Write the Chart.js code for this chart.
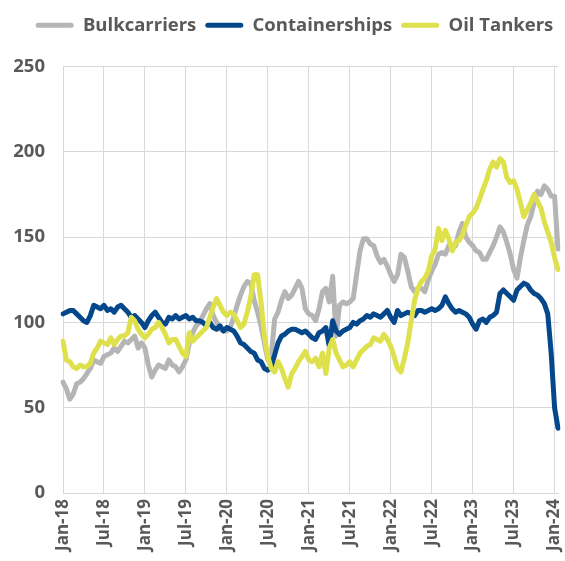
<!DOCTYPE html>
<html lang="en">
<head>
<meta charset="UTF-8" />
<title>Fleet index</title>
<script src="https://cdn.jsdelivr.net/npm/chart.js@4"></script>
<style>
  html, body { margin: 0; padding: 0; background: #fff; }
  #wrap { width: 565px; height: 561px; }
</style>
</head>
<body>
<div id="wrap"><canvas id="fleetChart"></canvas></div>
<script>
// half-monthly observations, Jan 2018 to mid Jan 2024
const startYear = 2018;
const tickLabels = ['Jan-18', 'Jul-18', 'Jan-19', 'Jul-19', 'Jan-20', 'Jul-20', 'Jan-21',
                    'Jul-21', 'Jan-22', 'Jul-22', 'Jan-23', 'Jul-23', 'Jan-24'];

const bulkcarriers = [
  65, 61, 55, 58, 64, 65, 67, 70, 73, 78, 77, 76, 80, 81, 82, 85, 83, 86, 89, 88,
  90, 92, 85, 88, 85, 75, 68, 72, 75, 74, 73, 78, 75, 74, 71, 74, 78, 88, 94, 98,
  100, 104, 108, 111, 104, 100, 96, 95, 95, 97, 103, 110, 116, 121, 124, 123, 113, 106, 98, 88,
  78, 80, 102, 106, 113, 118, 114, 116, 120, 124, 120, 108, 105, 104, 101, 108, 118, 120, 112, 127,
  92, 110, 112, 111, 112, 114, 128, 142, 149, 149, 146, 145, 139, 135, 137, 133, 128, 124, 128, 140,
  138, 130, 121, 118, 120, 120, 118, 125, 130, 134, 140, 141, 140, 145, 143, 145, 153, 158, 150, 147,
  145, 142, 141, 137, 137, 141, 145, 150, 156, 153, 147, 140, 131, 126, 138, 148, 157, 162, 170, 177,
  175, 180, 178, 174, 174, 143
];

const containerships = [
  105, 106, 107, 107, 105, 103, 101, 100, 104, 110, 109, 108, 110, 107, 108, 106, 109, 110, 108, 106,
  103, 104, 102, 100, 97, 101, 104, 106, 103, 100, 99, 103, 102, 104, 102, 103, 104, 102, 103, 101,
  101, 100, 98, 100, 97, 96, 98, 95, 97, 96, 95, 92, 88, 87, 85, 83, 82, 78, 77, 73,
  72, 74, 81, 88, 92, 93, 95, 96, 96, 95, 94, 95, 93, 91, 90, 94, 95, 97, 86, 101,
  95, 93, 95, 96, 97, 100, 99, 101, 102, 104, 103, 105, 104, 103, 105, 107, 103, 100, 107, 104,
  105, 106, 105, 104, 107, 107, 106, 107, 108, 107, 108, 110, 115, 111, 108, 106, 107, 106, 105, 103,
  99, 96, 101, 102, 100, 103, 104, 106, 117, 119, 117, 115, 113, 119, 121, 123, 122, 119, 117, 116,
  114, 111, 105, 82, 50, 38
];

const oilTankers = [
  89, 78, 77, 74, 73, 75, 74, 74, 76, 82, 85, 89, 88, 87, 91, 87, 90, 92, 92, 94,
  103, 101, 96, 93, 91, 93, 96, 97, 100, 97, 93, 88, 90, 90, 86, 82, 80, 94, 89, 91,
  93, 95, 97, 103, 109, 114, 110, 106, 104, 106, 105, 101, 97, 99, 106, 115, 128, 128, 112, 92,
  80, 73, 71, 77, 73, 67, 62, 70, 73, 77, 80, 83, 78, 77, 79, 74, 82, 70, 85, 90,
  82, 78, 74, 75, 77, 74, 78, 82, 84, 86, 87, 91, 90, 89, 93, 90, 86, 80, 73, 71,
  79, 88, 101, 113, 120, 124, 126, 130, 139, 143, 155, 148, 154, 149, 142, 147, 148, 151, 157, 162,
  164, 167, 172, 178, 183, 190, 194, 191, 196, 194, 185, 182, 183, 178, 170, 162, 166, 170, 175, 171,
  167, 159, 153, 147, 138, 131
];

// category labels: 1st and 16th of every month
const periods = bulkcarriers.map((v, i) => {
  const y = startYear + Math.floor(i / 24);
  const m = Math.floor((i % 24) / 2) + 1;
  const d = i % 2 === 0 ? '01' : '16';
  return y + '-' + String(m).padStart(2, '0') + '-' + d;
});

const textColor = '#595959';
const gridColor = '#d9d9d9';
const fontFamily = '"Open Sans", Arial, sans-serif';

function series(label, values, color, order) {
  return {
    label: label,
    data: values,
    borderColor: color,
    backgroundColor: color,
    borderWidth: 5,
    pointRadius: 0,
    pointHoverRadius: 0,
    borderJoinStyle: 'round',
    borderCapStyle: 'round',
    tension: 0,
    order: order
  };
}

// extra room under the legend, and nudge it a little to the right
const legendSpacing = {
  id: 'legendSpacing',
  beforeInit(chart) {
    const fit = chart.legend.fit;
    chart.legend.fit = function() {
      fit.bind(chart.legend)();
      this.height += 22;
    };
  },
  afterLayout(chart) {
    chart.legend.left += 9;
    chart.legend.right += 9;
  }
};

const ctx = document.getElementById('fleetChart').getContext('2d');

new Chart(ctx, {
  type: 'line',
  data: {
    labels: periods,
    datasets: [
      series('Bulkcarriers', bulkcarriers, '#b5b5b5', 3),
      series('Containerships', containerships, '#04478a', 2),
      series('Oil Tankers', oilTankers, '#dee04c', 1)
    ]
  },
  plugins: [legendSpacing],
  options: {
    responsive: true,
    maintainAspectRatio: false,
    animation: false,
    layout: { padding: { left: 13, right: 7, top: 7, bottom: 4 } },
    plugins: {
      tooltip: { enabled: false },
      legend: {
        position: 'top',
        labels: {
          color: textColor,
          font: { family: fontFamily, size: 18.5, weight: 'bold' },
          boxWidth: 38,
          boxHeight: 5,
          useBorderRadius: true,
          borderRadius: 2.5,
          padding: 9,
          sort: (a, b) => a.datasetIndex - b.datasetIndex,
          generateLabels: function(chart) {
            return Chart.defaults.plugins.legend.labels.generateLabels(chart)
              .map(item => Object.assign(item, { lineWidth: 0 }));
          }
        }
      }
    },
    scales: {
      x: {
        type: 'category',
        grid: { color: gridColor, drawTicks: false },
        border: { color: gridColor },
        afterFit: function(scale) {
          scale.paddingLeft = 0;
          scale.paddingRight = 0;
        },
        ticks: {
          autoSkip: false,
          maxRotation: 90,
          minRotation: 90,
          padding: 6,
          color: textColor,
          font: { family: fontFamily, size: 17, weight: 'bold' },
          callback: function(value, index) {
            return index % 12 === 0 ? tickLabels[index / 12] : null;
          }
        }
      },
      y: {
        min: 0,
        max: 250,
        grid: { color: gridColor, drawTicks: false },
        border: { display: false },
        afterFit: function(scale) {
          scale.width = 50;
        },
        ticks: {
          stepSize: 50,
          padding: 18,
          color: textColor,
          font: { family: fontFamily, size: 18.5, weight: 'bold' }
        }
      }
    }
  }
});
</script>
</body>
</html>
